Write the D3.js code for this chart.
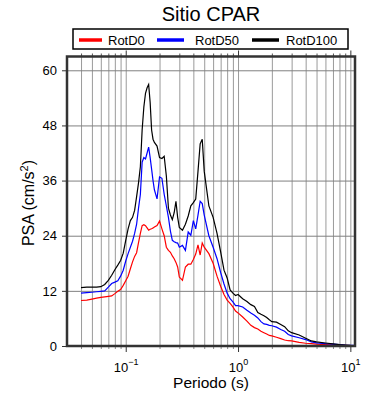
<!DOCTYPE html>
<html>
<head>
<meta charset="utf-8">
<script src="https://cdn.jsdelivr.net/npm/d3@7"></script>
<style>
  body { margin: 0; background: #fff; }
  text { font-family: "Liberation Sans", Arial, sans-serif; }
</style>
</head>
<body>
<script>
// periodos (s)
var periodos = [0.04, 0.045, 0.05, 0.055, 0.06, 0.065, 0.07, 0.075, 0.08, 0.085, 0.09, 0.095,
    0.1, 0.105, 0.11, 0.115, 0.12, 0.125, 0.13, 0.135, 0.14, 0.145, 0.15, 0.155, 0.16, 0.165,
    0.17, 0.175, 0.18, 0.19, 0.2, 0.21, 0.22, 0.23, 0.24, 0.25, 0.26, 0.27, 0.28, 0.29, 0.3,
    0.32, 0.34, 0.36, 0.38, 0.4, 0.42, 0.44, 0.46, 0.48, 0.5, 0.55, 0.6, 0.65, 0.7, 0.75, 0.8,
    0.85, 0.9, 0.95, 1.0, 1.1, 1.2, 1.3, 1.4, 1.5, 1.6, 1.7, 1.8, 1.9, 2.0, 2.2, 2.4, 2.6, 2.8,
    3.0, 3.5, 4.0, 4.5, 5.0, 6, 7, 8, 9, 10, 10.8];

var rotD0 = [9.9, 10.0, 10.2, 10.4, 10.6, 10.7, 10.8, 10.9, 11.4, 11.9, 12.3, 13.2,
    14.2, 15.2, 16.8, 18.3, 19.5, 20.3, 22.5, 24.5, 26.2, 26.4, 26.2, 25.7, 25.2, 25.4,
    25.5, 25.7, 25.9, 26.2, 27.2, 25.5, 24, 21.5, 20.8, 20.4, 19.6, 19, 18.2, 17.2, 15,
    14.3, 17.2, 17.8, 17.8, 18.8, 20, 22, 19.8, 22.4, 21.5, 20.1, 18, 15.2, 13, 11.2, 10,
    9.3, 8.5, 7.6, 7.2, 6.3, 5.4, 4.5, 4, 3.7, 3.2, 2.9, 2.6, 2.3, 2.2, 1.9, 1.6, 1.3, 1.15,
    1.1, 0.8, 0.6, 0.5, 0.4, 0.3, 0.25, 0.2, 0.15, 0.1, 0.08];

var rotD50 = [11.5, 11.6, 11.7, 11.8, 11.9, 12.0, 12.8, 13.6, 13.9, 14.2, 15.2, 16.5,
    18.5, 20.1, 21.5, 22.8, 24.5, 26.5, 30, 33, 40, 41, 40.7, 42, 43.3, 41,
    38.5, 36, 34, 32, 36.8, 36.5, 33, 30.5, 28, 25, 23, 22.7, 22.5, 22.4, 21.5,
    21.9, 20.8, 24.8, 24.1, 27.3, 25.5, 28.5, 31.5, 31, 28.5, 24, 21.5, 19, 16, 13.5, 11.5,
    10.3, 9.6, 8.8, 8.8, 8.5, 7.8, 7.2, 6.7, 6.1, 5.3, 4.8, 4.7, 4.5, 4.4, 4.1, 3.6, 3.2, 2.5,
    2.2, 1.8, 1.4, 0.9, 0.7, 0.5, 0.4, 0.3, 0.2, 0.15, 0.12];

var rotD100 = [12.7, 12.8, 12.8, 12.8, 12.9, 13.4, 14.3, 15.4, 16.6, 17.6, 18.6, 20.2,
    23, 25.5, 27.3, 28, 29.5, 32.5, 35.5, 39, 47, 52, 55, 56.2, 56.9, 53,
    47, 45, 44.3, 43.5, 41, 40.8, 41.3, 37, 30, 28.5, 27.5, 29, 31.5, 28, 25.8,
    25.2, 26.5, 28.3, 30.5, 31.2, 32, 38, 44, 45, 38, 30.5, 28, 24.5, 20.5, 16.5, 14.8,
    12.2, 11.5, 11, 11.2, 10.3, 9.7, 9, 8.6, 7.3, 6.9, 6.6, 6.2, 5.7, 5.3, 5.2, 4.7, 4.2, 3.3,
    2.9, 2.4, 1.7, 1.1, 0.9, 0.65, 0.45, 0.3, 0.2, 0.12, 0.1];

var series = ["RotD0", "RotD50", "RotD100"];
var cores = ["#ff0000", "#0000ff", "#000000"];

var yTicks = [0, 12, 24, 36, 48, 60];
var xMajor = [0.1, 1, 10];
var xExpoentes = ["\u22121", "0", "1"];
var xMinor = [0.04, 0.05, 0.06, 0.07, 0.08, 0.09, 0.2, 0.3, 0.4, 0.5, 0.6, 0.7, 0.8, 0.9,
    2, 3, 4, 5, 6, 7, 8, 9];

var width = 390;
var height = 400;
var mEsq = 67, mDir = 355, mTopo = 56.5, mBase = 346;

var canvas = d3.select("body")
                .append("svg")
                .attr("width", width)
                .attr("height", height);

var x = d3.scaleLog()
            .domain([0.03, 11])
            .range([mEsq, mDir]);

var y = d3.scaleLinear()
            .domain([0, 63])
            .range([mBase, mTopo]);

// grade vertical
canvas.append("g")
    .attr("transform", "translate(0," + mBase + ")")
    .call(d3.axisBottom(x).tickValues(xMinor.concat(xMajor)).tickSize(-(mBase - mTopo)).tickFormat(""))
    .call(function(g) {
        g.select(".domain").remove();
        g.selectAll("line").attr("stroke", "#9a9a9a").attr("stroke-width", 1);
    });

// grade horizontal
canvas.append("g")
    .attr("transform", "translate(" + mEsq + ",0)")
    .call(d3.axisLeft(y).tickValues(yTicks.slice(1)).tickSize(-(mDir - mEsq)).tickFormat(""))
    .call(function(g) {
        g.select(".domain").remove();
        g.selectAll("line").attr("stroke", "#808080").attr("stroke-width", 1);
    });

// curvas
var linha = d3.line()
    .x(function(d) { return x(d[0]); })
    .y(function(d) { return y(d[1]); });

var valores = [rotD0, rotD50, rotD100];
canvas.selectAll("path.curva")
    .data(valores)
    .enter()
        .append("path")
        .attr("class", "curva")
        .attr("fill", "none")
        .attr("stroke", function(d, i) { return cores[i]; })
        .attr("stroke-width", 1.2)
        .attr("d", function(v) { return linha(periodos.map(function(p, k) { return [p, v[k]]; })); });

// eixo y
canvas.append("g")
    .attr("transform", "translate(" + mEsq + ",0)")
    .call(d3.axisLeft(y).tickValues(yTicks).tickSize(5).tickPadding(5))
    .call(function(g) {
        g.select(".domain").remove();
        g.selectAll("line").attr("stroke", "#333");
        g.selectAll("text").attr("font-size", 13).attr("fill", "#000")
            .style("font-family", "Liberation Sans, Arial, sans-serif");
    });

// eixo x (baixo)
canvas.append("g")
    .attr("transform", "translate(0," + mBase + ")")
    .call(d3.axisBottom(x).tickValues(xMinor).tickSize(3).tickFormat(""))
    .call(function(g) {
        g.select(".domain").remove();
        g.selectAll("line").attr("stroke", "#888");
    });

canvas.append("g")
    .attr("transform", "translate(0," + mBase + ")")
    .call(d3.axisBottom(x).tickValues(xMajor).tickSize(6).tickPadding(8).tickFormat(function() { return "10"; }))
    .call(function(g) {
        g.select(".domain").remove();
        g.selectAll("line").attr("stroke", "#333");
        g.selectAll("text")
            .attr("font-size", 13)
            .attr("fill", "#000")
            .attr("dy", "0.9em")
            .style("font-family", "Liberation Sans, Arial, sans-serif")
            .append("tspan")
                .attr("font-size", 9)
                .attr("dy", "-0.75em")
                .text(function(d, i) { return xExpoentes[i]; });
    });

// eixo x (cima)
canvas.append("g")
    .attr("transform", "translate(0," + mTopo + ")")
    .call(d3.axisTop(x).tickValues(xMinor).tickSize(3).tickFormat(""))
    .call(function(g) {
        g.select(".domain").remove();
        g.selectAll("line").attr("stroke", "#555");
    });

canvas.append("g")
    .attr("transform", "translate(0," + mTopo + ")")
    .call(d3.axisTop(x).tickValues(xMajor).tickSize(6).tickFormat(""))
    .call(function(g) {
        g.select(".domain").remove();
        g.selectAll("line").attr("stroke", "#333");
    });

// moldura
canvas.append("rect")
    .attr("x", mEsq)
    .attr("y", mTopo)
    .attr("width", mDir - mEsq)
    .attr("height", mBase - mTopo)
    .attr("fill", "none")
    .attr("stroke", "#333")
    .attr("stroke-width", 2.5);

// titulo
canvas.append("text")
    .attr("x", (mEsq + mDir) / 2)
    .attr("y", 21)
    .attr("text-anchor", "middle")
    .attr("font-size", 20)
    .text("Sitio CPAR");

// rotulos dos eixos
canvas.append("text")
    .attr("x", (mEsq + mDir) / 2)
    .attr("y", 388)
    .attr("text-anchor", "middle")
    .attr("font-size", 15.5)
    .text("Periodo (s)");

var ylab = canvas.append("text")
    .attr("transform", "translate(34," + 203 + ") rotate(-90)")
    .attr("text-anchor", "middle")
    .attr("font-size", 16);
ylab.append("tspan").text("PSA (cm/s");
ylab.append("tspan").attr("font-size", 11).attr("dy", -6).text("2");
ylab.append("tspan").attr("dy", 6).text(")");

// legenda
canvas.append("rect")
    .attr("x", 73)
    .attr("y", 29)
    .attr("width", 275)
    .attr("height", 20)
    .attr("fill", "#fff")
    .attr("stroke", "#000")
    .attr("stroke-width", 1.5);

var legX = [79, 157, 252];
var legenda = canvas.selectAll("g.leg")
    .data(series)
    .enter()
        .append("g")
        .attr("class", "leg")
        .attr("transform", function(d, i) { return "translate(" + legX[i] + ",40)"; });

legenda.append("line")
    .attr("x1", 0)
    .attr("x2", function(d, i) { return i == 0 ? 23 : 27; })
    .attr("stroke", function(d, i) { return cores[i]; })
    .attr("stroke-width", 3.5);

legenda.append("text")
    .attr("x", function(d, i) { return i == 1 ? 38 : (i == 0 ? 29 : 34); })
    .attr("y", 4.5)
    .attr("font-size", 13)
    .text(function(d) { return d; });
</script>
</body>
</html>
